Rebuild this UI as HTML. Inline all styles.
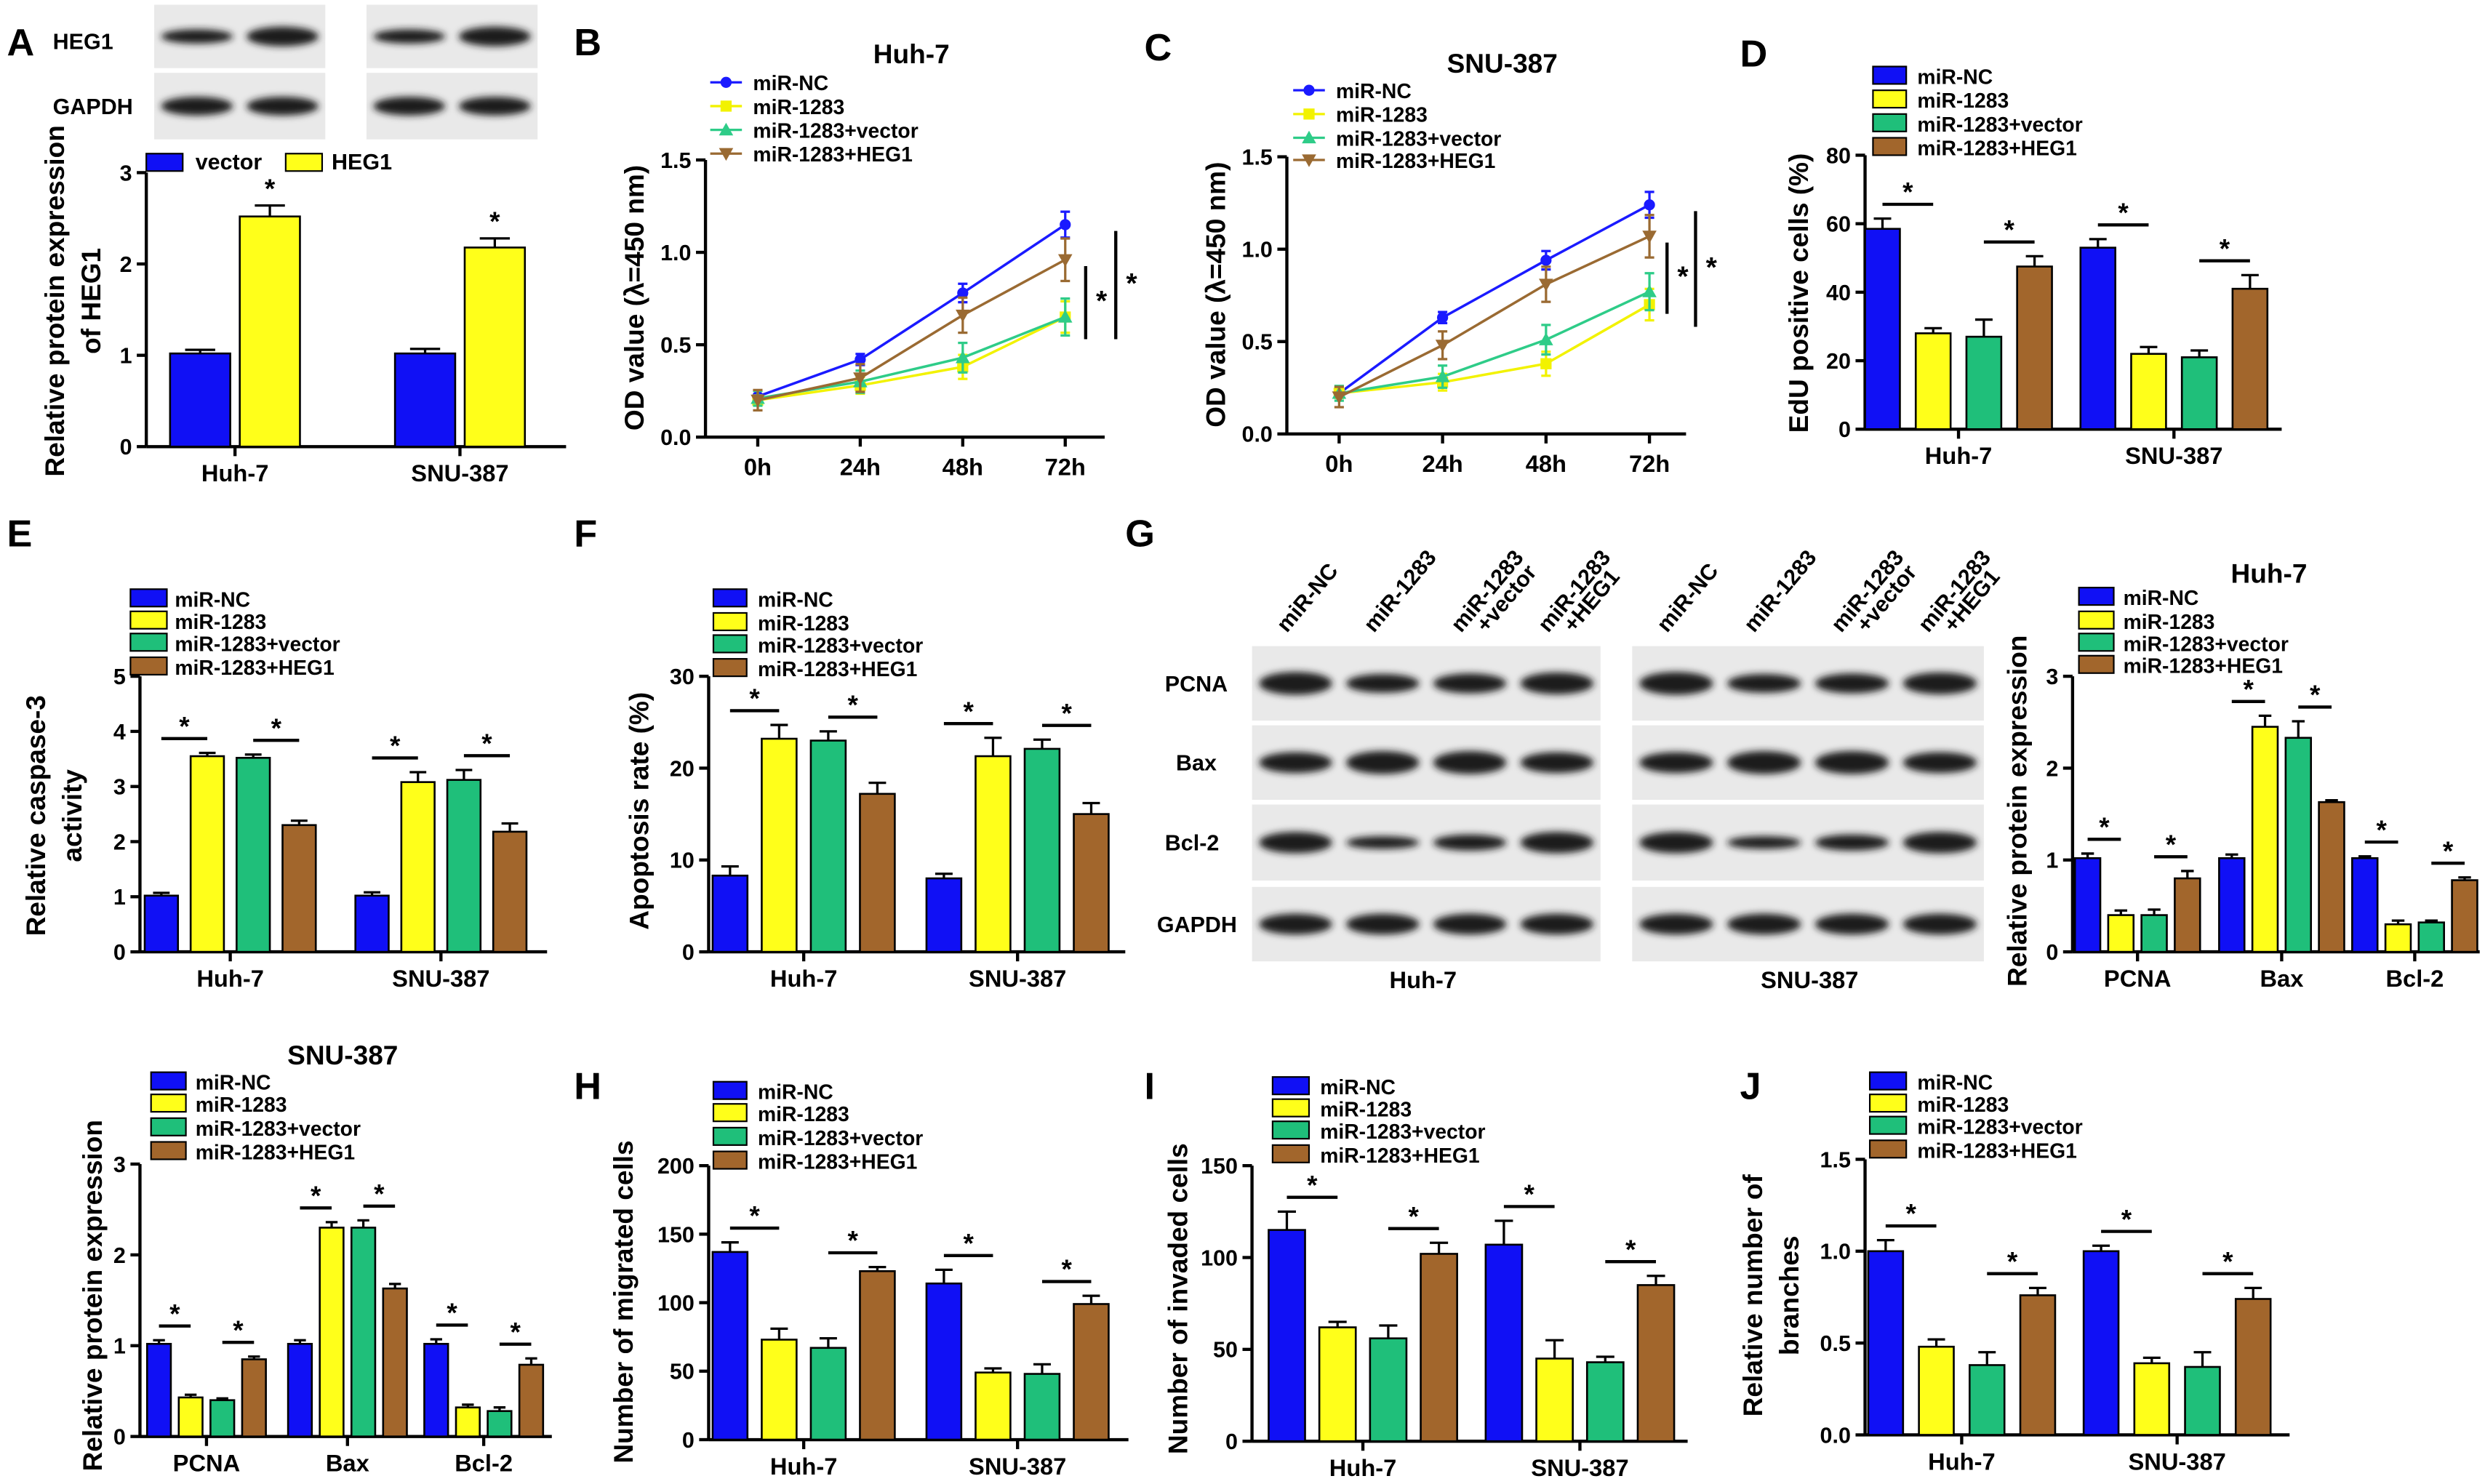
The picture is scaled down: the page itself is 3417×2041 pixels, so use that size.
<!DOCTYPE html>
<html><head><meta charset="utf-8"><style>
html,body{margin:0;padding:0;background:#fff;}
svg{display:block;}
text{font-family:"Liberation Sans",Arial,sans-serif;font-weight:bold;fill:#000;}
</style></head>
<body>
<svg id="fig" width="3417" height="2041" viewBox="0 0 1568 937" xmlns="http://www.w3.org/2000/svg">
<defs>
<filter id="blur" x="-20%" y="-50%" width="140%" height="200%"><feGaussianBlur stdDeviation="2.2"/></filter>
</defs>
</svg>
<script>
// ---------- DATA ----------
const seriesNames=["miR-NC","miR-1283","miR-1283+vector","miR-1283+HEG1"];
const aCategories=["Huh-7","SNU-387"];
const aVector=[1.02,1.02];
const aHEG1=[2.52,2.18];
const aVectorErr=[0.04,0.05];
const aHEG1Err=[0.12,0.1];
const timeLabels=["0h","24h","48h","72h"];
const bNC=[0.22,0.42,0.78,1.15];
const b1283=[0.20,0.28,0.38,0.65];
const bVec=[0.21,0.30,0.43,0.65];
const bHEG=[0.20,0.32,0.66,0.96];
const cNC=[0.22,0.63,0.94,1.24];
const c1283=[0.22,0.28,0.38,0.70];
const cVec=[0.22,0.31,0.51,0.77];
const cHEG=[0.20,0.48,0.81,1.07];
const twoCats=["Huh-7","SNU-387"];
const protCats=["PCNA","Bax","Bcl-2"];
const dVals=[[58.5,28,27,47.5],[53,22,21,41]];
const dErr=[[3,1.5,5,3],[2.5,2,2,4]];
const eVals=[[1.02,3.55,3.52,2.3],[1.02,3.08,3.12,2.18]];
const eErr=[[0.05,0.06,0.06,0.08],[0.06,0.18,0.18,0.15]];
const fVals=[[8.3,23.2,23,17.2],[8,21.3,22.1,15]];
const fErr=[[1,1.5,1,1.2],[0.5,2,1,1.2]];
const gVals=[[1.02,0.4,0.4,0.8],[1.02,2.45,2.33,1.63],[1.02,0.3,0.32,0.78]];
const gErr=[[0.05,0.05,0.06,0.08],[0.04,0.12,0.18,0.02],[0.02,0.04,0.02,0.03]];
const snuVals=[[1.02,0.43,0.4,0.85],[1.02,2.3,2.3,1.63],[1.02,0.32,0.28,0.79]];
const snuErr=[[0.04,0.03,0.02,0.03],[0.04,0.06,0.08,0.05],[0.05,0.03,0.04,0.07]];
const hVals=[[137,73,67,123],[114,49,48,99]];
const hErr=[[7,8,7,3],[10,3,7,6]];
const iVals=[[115,62,56,102],[107,45,43,85]];
const iErr=[[10,3,7,6],[13,10,3,5]];
const jVals=[[1.0,0.48,0.38,0.76],[1.0,0.39,0.37,0.74]];
const jErr=[[0.06,0.04,0.07,0.04],[0.03,0.03,0.08,0.06]];

// ---------- HELPERS ----------
const svg=document.getElementById('fig');
const NS="http://www.w3.org/2000/svg";
const COLORS=["#1010f5","#ffff1a","#1fbf7a","#a2662c"];
const LCOLORS=["#1a1aff","#f2f200","#2ecc88","#9a6a32"];
function el(tag,attrs,parent,txt){const e=document.createElementNS(NS,tag);for(const k in attrs)e.setAttribute(k,attrs[k]);if(txt!==undefined)e.textContent=txt;(parent||svg).appendChild(e);return e;}
function grp(name){const g=el('g',{});return g;}
function txt(g,x,y,s,size,anchor,extra){const t=el('text',Object.assign({x:x,y:y,'font-size':size||14,'text-anchor':anchor||'start'},extra||{}),g,s);return t;}
function ytitle(g,x,y,lines,size){lines.forEach((l,i)=>{const t=txt(g,x+i*(size+6),y,l,size,'middle',{transform:`rotate(-90 ${x+i*(size+6)} ${y})`});});}
function letter(s,x,y){const t=txt(svg,x,y,s,24);}

function legend(g,x,ys,bw,names,colors,tx,line){names.forEach((n,i)=>{
 const lg=el('g',{},g);
 if(line){el('line',{x1:x-10,y1:ys[i],x2:x+10,y2:ys[i],stroke:colors[i],'stroke-width':1.5},lg);marker(lg,x,ys[i],i,colors[i],3.5);}
 else el('rect',{x:x,y:ys[i]-6,width:bw,height:11,fill:colors[i],stroke:'#000','stroke-width':1},lg);
 txt(lg,tx,ys[i]+5,n,13);});}

function axisY(g,ax,y0,yTop,vmax,ticks,fmt,size){
 const y=v=>y0-v/vmax*(y0-yTop);
 el('line',{x1:ax,y1:y0,x2:ax,y2:yTop,stroke:'#000','stroke-width':2},g);
 ticks.forEach(t=>{el('line',{x1:ax-6,y1:y(t),x2:ax,y2:y(t),stroke:'#000','stroke-width':2},g);
  const lb=txt(g,ax-9,y(t)+5,fmt(t),size||14,'end');});
 return y;}

function barChart(o){
 const g=grp(o.name);
 const y=axisY(g,o.ax,o.y0,o.yTop,o.vmax,o.ticks,o.fmt);
 el('line',{x1:o.ax,y1:o.y0,x2:o.xEnd,y2:o.y0,stroke:'#000','stroke-width':2},g);
 o.vals.forEach((gv,gi)=>{
  const c=o.centers[gi];
  el('line',{x1:c,y1:o.y0,x2:c,y2:o.y0+6,stroke:'#000','stroke-width':2},g);
  const cl=txt(g,c,o.y0+22,o.cats[gi],15,'middle');
  const xs=[];
  gv.forEach((v,si)=>{
   const n=gv.length;const bx=c+(si-(n-1)/2)*o.pitch;xs.push(bx);
   const top=y(v);
   const err=o.errs[gi][si];
   el('line',{x1:bx,y1:top,x2:bx,y2:y(v+err),stroke:'#000','stroke-width':1.5},g);
   el('line',{x1:bx-o.bw/4,y1:y(v+err),x2:bx+o.bw/4,y2:y(v+err),stroke:'#000','stroke-width':1.5},g);
   const r=el('rect',{x:bx-o.bw/2,y:top,width:o.bw,height:o.y0-top,fill:(o.colors||COLORS)[si],stroke:'#000','stroke-width':1.2},g);
   
   if(o.singleStar&&si===1){txt(g,bx,y(v+err)-5,'*',17,'middle');}
  });
  if(o.stars){[[0,1],[2,3]].forEach(p=>{
   if(p[1]>=gv.length)return;
   const top=Math.min(y(gv[p[0]]+o.errs[gi][p[0]]),y(gv[p[1]]+o.errs[gi][p[1]]))-9;
   el('line',{x1:xs[p[0]],y1:top,x2:xs[p[1]],y2:top,stroke:'#000','stroke-width':2},g);
   txt(g,(xs[p[0]]+xs[p[1]])/2,top-2,'*',17,'middle');});}
 });
 return g;}

function marker(g,x,y,i,col,r){
 if(i===0)el('circle',{cx:x,cy:y,r:r,fill:col},g);
 else if(i===1)el('rect',{x:x-r,y:y-r,width:2*r,height:2*r,fill:col},g);
 else if(i===2)el('polygon',{points:`${x},${y-r-1} ${x-r-1},${y+r} ${x+r+1},${y+r}`,fill:col},g);
 else el('polygon',{points:`${x},${y+r+1} ${x-r-1},${y-r} ${x+r+1},${y-r}`,fill:col},g);}

function lineChart(o){
 const g=grp(o.name);
 const y=axisY(g,o.ax,o.y0,o.yTop,1.5,[0,0.5,1,1.5],t=>t.toFixed(1));
 const x=i=>o.x0+i*o.dx;
 el('line',{x1:o.ax,y1:o.y0,x2:o.xEnd,y2:o.y0,stroke:'#000','stroke-width':2},g);
 timeLabels.forEach((l,i)=>{el('line',{x1:x(i),y1:o.y0,x2:x(i),y2:o.y0+6,stroke:'#000','stroke-width':2},g);
  const t=txt(g,x(i),o.y0+24,l,15,'middle');});
 o.series.forEach((s,si)=>{
  const sg=el('g',{},g);
  el('polyline',{points:s.map((v,i)=>x(i)+','+y(v)).join(' '),fill:'none',stroke:LCOLORS[si],'stroke-width':1.6},sg);
  s.forEach((v,i)=>{const e=0.01+0.06*i/3+0.015*si;
   el('line',{x1:x(i),y1:y(v-e),x2:x(i),y2:y(v+e),stroke:LCOLORS[si],'stroke-width':1.5},sg);
   el('line',{x1:x(i)-3,y1:y(v+e),x2:x(i)+3,y2:y(v+e),stroke:LCOLORS[si],'stroke-width':1.5},sg);
   el('line',{x1:x(i)-3,y1:y(v-e),x2:x(i)+3,y2:y(v-e),stroke:LCOLORS[si],'stroke-width':1.5},sg);
   marker(sg,x(i),y(v),si,LCOLORS[si],3.5);});
 });
 const last=o.series.map(s=>s[3]);
 o.brackets.forEach(b=>{el('line',{x1:b.x,y1:y(last[b.a])+4,x2:b.x,y2:y(last[b.b])+14,stroke:'#000','stroke-width':2},g);
  txt(g,b.x+10,(y(last[b.a])+y(last[b.b]))/2+14,'*',18,'middle');});
 txt(g,o.titleX,o.titleY,o.title,17,'middle');
 legend(g,o.legX,o.legY,0,seriesNames,LCOLORS,o.legX+17,true);
 return g;}

function blot(g,x,y,w,h,n,intens){
 el('rect',{x:x,y:y,width:w,height:h,fill:'#e9e9e9'},g);
 for(let i=0;i<n;i++){const cx=x+w*(i+0.5)/n;
  el('ellipse',{cx:cx,cy:y+h/2,rx:w/n*0.42,ry:h*0.14*(intens?intens[i]:1),fill:'#1a1a1a',filter:'url(#blur)'},g);}}

// ---------- PANEL A ----------
letter('A',4,35);
{const g=grp('panel-a-blot');
 blot(g,97,3,108,40,2,[0.8,1.1]);blot(g,231,3,108,40,2,[0.8,1.1]);
 blot(g,97,46,108,42,2);blot(g,231,46,108,42,2);
 txt(g,33,31,'HEG1',14);txt(g,33,72,'GAPDH',14);}
barChart({name:'panel-a-chart',ax:92,y0:282,yTop:109,vmax:3,ticks:[0,1,2,3],fmt:t=>String(t),xEnd:357,
 centers:[148,290],pitch:44,bw:38,cats:aCategories,vals:aCategories.map((c,i)=>[aVector[i],aHEG1[i]]),
 errs:aCategories.map((c,i)=>[aVectorErr[i],aHEG1Err[i]]),colors:[COLORS[0],COLORS[1]],singleStar:true});
{const g=grp('panel-a-extra');
 el('rect',{x:92,y:97,width:23,height:11,fill:COLORS[0],stroke:'#000'},g);txt(g,123,107,'vector',14);
 el('rect',{x:180,y:97,width:23,height:11,fill:COLORS[1],stroke:'#000'},g);txt(g,209,107,'HEG1',14);
 ytitle(g,40,190,['Relative protein expression','of HEG1'],17);}

// ---------- PANEL B / C ----------
letter('B',362,35);
lineChart({name:'panel-b-chart',ax:445,y0:276,yTop:101,x0:478,dx:64.7,xEnd:697,series:[bNC,b1283,bVec,bHEG],
 brackets:[{x:685,a:3,b:2},{x:704,a:0,b:1}],title:'Huh-7',titleX:575,titleY:40,legX:458,legY:[52,67,82,97]});
ytitle(svg,406,188,['OD value (λ=450 nm)'],17);
letter('C',722,38);
lineChart({name:'panel-c-chart',ax:812,y0:274,yTop:99,x0:845,dx:65.3,xEnd:1064,series:[cNC,c1283,cVec,cHEG],
 brackets:[{x:1052,a:3,b:2},{x:1070,a:0,b:1}],title:'SNU-387',titleX:948,titleY:46,legX:826,legY:[57,72,87,101]});
ytitle(svg,773,186,['OD value (λ=450 nm)'],17);

// ---------- PANEL D ----------
letter('D',1098,42);
{const g=barChart({name:'panel-d-chart',ax:1177,y0:271,yTop:98,vmax:80,ticks:[0,20,40,60,80],fmt:String,xEnd:1440,
 centers:[1236,1372],pitch:32,bw:22,cats:twoCats,vals:dVals,errs:dErr,stars:true});
 legend(g,1182,[48,63,78,93],21,seriesNames,COLORS,1210);
 ytitle(g,1141,185,['EdU positive cells (%)'],17);}

// ---------- PANEL E ----------
letter('E',4,345);
{const g=barChart({name:'panel-e-chart',ax:88,y0:601,yTop:427,vmax:5,ticks:[0,1,2,3,4,5],fmt:String,xEnd:345,
 centers:[145,278],pitch:29,bw:21,cats:twoCats,vals:eVals,errs:eErr,stars:true});
 legend(g,82,[378,392,406,421],23,seriesNames,COLORS,110);
 ytitle(g,28,515,['Relative caspase-3','activity'],17);}

// ---------- PANEL F ----------
letter('F',362,345);
{const g=barChart({name:'panel-f-chart',ax:447,y0:601,yTop:427,vmax:30,ticks:[0,10,20,30],fmt:String,xEnd:710,
 centers:[507,642],pitch:31,bw:22,cats:twoCats,vals:fVals,errs:fErr,stars:true});
 legend(g,450,[378,393,407,422],21,seriesNames,COLORS,478);
 ytitle(g,409,512,['Apoptosis rate (%)'],17);}

// ---------- PANEL G ----------
letter('G',710,345);
{const g=grp('panel-g-blots');
 const rows=[['PCNA',408,47],['Bax',458,47],['Bcl-2',508,48],['GAPDH',560,47]];
 const ints=[[1.1,0.9,0.95,1.05],[1,1.1,1.1,1],[1,0.6,0.75,1],[1,1,1,1]];
 rows.forEach((r,ri)=>{blot(g,790,r[1],220,r[2],4,ints[ri]);blot(g,1030,r[1],222,r[2],4,ints[ri]);
  txt(g,r[0]==='GAPDH'?730:(r[0]==='Bax'?742:735),r[1]+r[2]/2+5,r[0],14);});
 const heads=[['miR-NC'],['miR-1283'],['miR-1283','+vector'],['miR-1283','+HEG1']];
 [790,1030].forEach(bx=>heads.forEach((h,i)=>{const cx=bx+55*i+22;
  h.forEach((l,li)=>{const X=cx+li*16,Y=400;txt(g,X,Y,l,14,'start',{transform:`rotate(-50 ${X} ${Y})`});});}));
 txt(g,898,624,'Huh-7',15,'middle');txt(g,1142,624,'SNU-387',15,'middle');}
{const g=barChart({name:'panel-g-chart',ax:1308,y0:601,yTop:427,vmax:3,ticks:[0,1,2,3],fmt:String,xEnd:1565,
 centers:[1349,1440,1524],pitch:21,bw:16,cats:protCats,vals:gVals,errs:gErr,stars:true});
 legend(g,1312,[377,392,406,420],22,seriesNames,COLORS,1340);
 txt(g,1432,368,'Huh-7',17,'middle');
 ytitle(g,1279,512,['Relative protein expression'],17);}

// ---------- SNU-387 protein ----------
{const g=barChart({name:'panel-g-snu-chart',ax:88,y0:907,yTop:735,vmax:3,ticks:[0,1,2,3],fmt:String,xEnd:348,
 centers:[130,219,305],pitch:20,bw:15,cats:protCats,vals:snuVals,errs:snuErr,stars:true});
 legend(g,95,[683,697,712,727],22,seriesNames,COLORS,123);
 txt(g,216,672,'SNU-387',17,'middle');
 ytitle(g,64,818,['Relative protein expression'],17);}

// ---------- PANEL H ----------
letter('H',362,694);
{const g=barChart({name:'panel-h-chart',ax:447,y0:909,yTop:736,vmax:200,ticks:[0,50,100,150,200],fmt:String,xEnd:712,
 centers:[507,642],pitch:31,bw:22,cats:twoCats,vals:hVals,errs:hErr,stars:true});
 legend(g,450,[689,703,718,733],21,seriesNames,COLORS,478);
 ytitle(g,399,822,['Number of migrated cells'],17);}

// ---------- PANEL I ----------
letter('I',722,694);
{const g=barChart({name:'panel-i-chart',ax:790,y0:910,yTop:736,vmax:150,ticks:[0,50,100,150],fmt:String,xEnd:1065,
 centers:[860,997],pitch:32,bw:23,cats:twoCats,vals:iVals,errs:iErr,stars:true});
 legend(g,803,[686,700,714,729],23,seriesNames,COLORS,833);
 ytitle(g,749,820,['Number of invaded cells'],17);}

// ---------- PANEL J ----------
letter('J',1098,694);
{const g=barChart({name:'panel-j-chart',ax:1177,y0:906,yTop:732,vmax:1.5,ticks:[0,0.5,1,1.5],fmt:t=>t.toFixed(1),xEnd:1445,
 centers:[1238,1374],pitch:32,bw:22,cats:twoCats,vals:jVals,errs:jErr,stars:true});
 legend(g,1180,[683,697,711,726],23,seriesNames,COLORS,1210);
 ytitle(g,1112,818,['Relative number of','branches'],17);}
</script>
</body></html>
